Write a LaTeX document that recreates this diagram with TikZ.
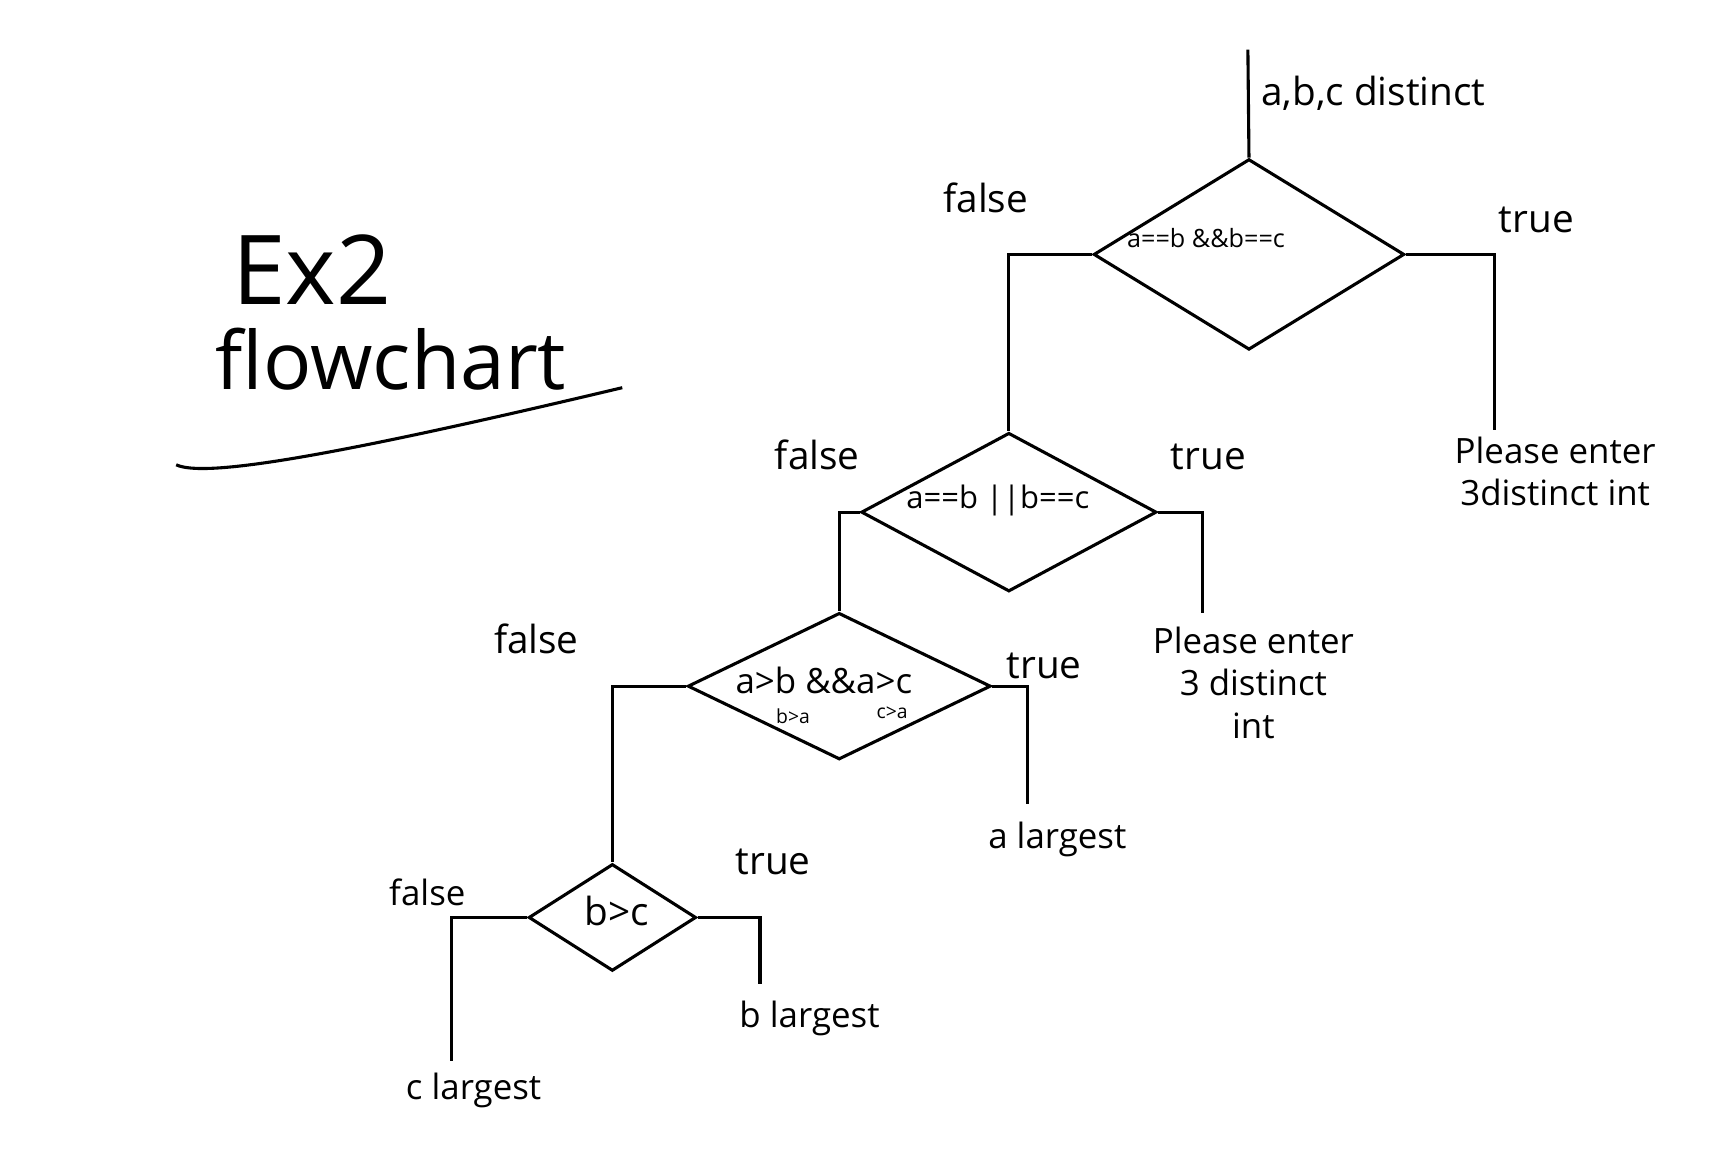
\documentclass[tikz,border=0pt]{standalone}
\usepackage{fontspec}
\setmainfont{Open Sans}
\usepackage{tikz}
\tikzset{
    cond/.style={draw, diamond, thick, inner sep=0pt},
    condtext/.style={font=\footnotesize},
    note/.style={font=\tiny},
    branch/.style={},
    result/.style={align=center, font=\small},
    flow/.style = {thick},
    heading/.style={font=\huge} }
\usetikzlibrary{calc, positioning, shapes.geometric}

\begin{document}
\begin{tikzpicture}[x=0.01cm, y=-0.01cm, node distance=2em]
      \useasboundingbox (0,0) rectangle (1568,1046);
      % ----
      \node[heading, font=\Huge] (ex) at (283,245) {Ex2};
      \node[heading] (fc) at (355,326) {flowchart};
      \draw[thick] (160,422) .. controls (185,434) and (300,415) .. (565,352);
      % ----
      \coordinate (in) at (1133,45);
      \node[branch] (abc) at (1247,85) {a,b,c distinct};
      \node[cond, minimum width=2.82cm, minimum height=1.73cm] (d1) at (1134,231) {};
      \node[cond, minimum width=2.68cm, minimum height=1.44cm] (d2) at (916,465) {};
      \node[cond, minimum width=2.75cm, minimum height=1.33cm] (d3) at (762,623) {};
      \node[cond, minimum width=1.52cm, minimum height=0.97cm] (d4) at (556,833) {};
      \node[condtext, font=\fontsize{6.5}{8}\selectfont] (q1) at (1095,216) {a==b \&\&b==c};
      \node[condtext] (q2) at (906,454) {a==b ||b==c};
      \node[condtext, font=\small] (q3) at (748,618) {a>b \&\&a>c};
      \node[note] (ba) at (720,650) {b>a};
      \node[note] (ca) at (810,647) {c>a};
      \node[condtext, font=\normalsize] (q4) at (560,827) {b>c};
      % ----
      \node[branch] (f1) at (895,180) {false};
      \node[branch] (t1) at (1395,200) {true};
      \node[branch] (f2) at (742,413) {false};
      \node[branch] (t2) at (1097,415) {true};
      \node[branch] (f3) at (487,580) {false};
      \node[branch] (t3) at (948,605) {true};
      \node[branch, font=\small] (f4) at (388,810) {false};
      \node[branch] (t4) at (702,783) {true};
      % ----
      \coordinate (e1) at (1357,390);
      \coordinate (e2) at (1092,557);
      \coordinate (e3) at (933,730);
      \coordinate (e4) at (690,893);
      \coordinate (e5) at (410,963);
      \node[result] (m1) at (1412,428) {Please enter\\3distinct int};
      \node[result] (m2) at (1138,620) {Please enter\\3 distinct\\int};
      \node[result] (m3) at (960,762) {a largest};
      \node[result] (m4) at (735,925) {b largest};
      \node[result] (m5) at (430,990) {c largest};
      % ----
      \draw[flow] (in) -- (d1.north);
      \draw[flow] (d1.west) -| (d2.north);
      \draw[flow] (d1.east) -| (e1);
      \draw[flow] (d2.west) -| (d3.north);
      \draw[flow] (d2.east) -| (e2);
      \draw[flow] (d3.west) -| (d4.north);
      \draw[flow] (d3.east) -| (e3);
      \draw[flow] (d4.west) -| (e5);
      \draw[flow] (d4.east) -| (e4);
    \end{tikzpicture}
\end{document}
